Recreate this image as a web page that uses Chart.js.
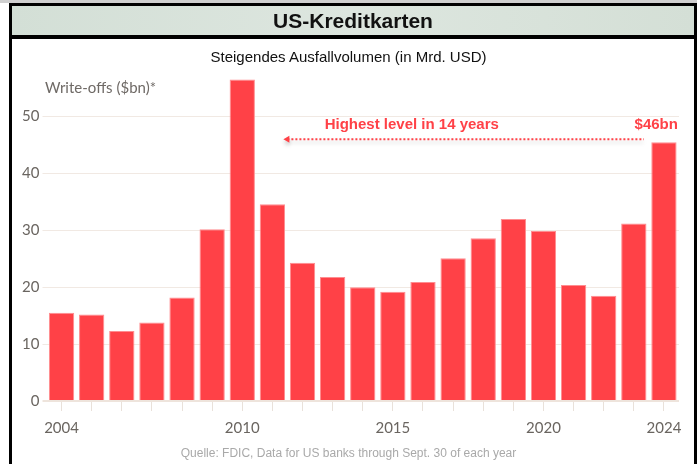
<!DOCTYPE html>
<html>
<head>
<meta charset="utf-8">
<script src="https://cdn.jsdelivr.net/npm/chart.js@4"></script>
<style>
  html, body { margin: 0; padding: 0; background: #fff; }
  #wrap { position: relative; width: 697px; height: 464px; overflow: hidden; }
  #topline { position: absolute; left: 0; top: 0; width: 697px; height: 3px; background: #cfcfcf; }
  #frame { position: absolute; left: 9px; top: 3px; width: 682px; height: 470px; border: 3px solid #000; }
  #header { position: absolute; left: 12px; top: 6px; width: 682px; height: 29px; border-bottom: 4px solid #000;
    background: linear-gradient(to right, #d3dfd6, #dde6df 50%, #d4dfd6);
    font: bold 21px "Liberation Sans", Arial, sans-serif; color: #111; text-align: center; line-height: 29px; }
  #subtitle { position: absolute; left: 0; width: 697px; top: 48px; text-align: center;
    font: 15px "Liberation Sans", Arial, sans-serif; color: #111; }
  #ytitle { position: absolute; left: 45px; top: 78px; font: 15px Lato, "Open Sans", sans-serif; color: #6f6a66; }
  #footer { position: absolute; left: 0; width: 697px; top: 446px; text-align: center;
    font: 12px "Liberation Sans Narrow", "Liberation Sans", Arial, sans-serif; color: #a9a9a9; }
  canvas { position: absolute; left: 0; top: 0; }
</style>
</head>
<body>
<div id="wrap">
  <canvas id="chart" width="697" height="464"></canvas>
  <div id="topline"></div>
  <div id="frame"></div>
  <div id="header">US-Kreditkarten</div>
  <div id="subtitle">Steigendes Ausfallvolumen (in Mrd. USD)</div>
  <div id="ytitle">Write-offs ($bn)*</div>
  <div id="footer">Quelle: FDIC, Data for US banks through Sept. 30 of each year</div>
</div>
<script>
// Card write-offs per year
const years = ["2004", "2005", "2006", "2007", "2008", "2009", "2010", "2011", "2012", "2013", "2014",
  "2015", "2016", "2017", "2018", "2019", "2020", "2021", "2022", "2023", "2024"]
const writeOffs = [15.5, 15.2, 12.3, 13.8, 18.2, 30.2, 56.5, 34.6, 24.3, 21.8, 20.0,
  19.2, 20.9, 25.1, 28.6, 32.0, 29.9, 20.4, 18.5, 31.2, 45.5]
const xTickLabels = ["2004", "2010", "2015", "2020", "2024"]
const yTicks = [0, 10, 20, 30, 40, 50]

const annoText = "Highest level in 14 years"
const annoValue = "$46bn"
const annoLevel = 46

const red = "#ff4147"
const gridColor = "#f1e9e3"
const tickColor = "#6a6560"

// Draws the dotted arrow and the two red labels
const annotationPlugin = {
  id: "annotation",
  afterDatasetsDraw(chart) {
    const { ctx, scales } = chart
    const x = scales.x
    const y = scales.y
    const yLine = y.getPixelForValue(annoLevel)
    const xStart = x.getPixelForValue(7) + 11
    const xEnd = x.getPixelForValue(20) - 20

    ctx.save()
    ctx.shadowColor = "rgba(0,0,0,0.22)"
    ctx.shadowBlur = 4
    ctx.shadowOffsetY = 3
    ctx.strokeStyle = red
    ctx.lineWidth = 2
    ctx.setLineDash([2, 2])
    ctx.beginPath()
    ctx.moveTo(xStart + 4, yLine)
    ctx.lineTo(xEnd, yLine)
    ctx.stroke()
    ctx.setLineDash([])
    ctx.fillStyle = red
    ctx.beginPath()
    ctx.moveTo(xStart, yLine)
    ctx.lineTo(xStart + 6, yLine - 3.5)
    ctx.lineTo(xStart + 6, yLine + 3.5)
    ctx.closePath()
    ctx.fill()
    ctx.restore()

    ctx.save()
    ctx.fillStyle = red
    ctx.font = "bold 15px 'Liberation Sans', Arial, sans-serif"
    ctx.textBaseline = "middle"
    ctx.textAlign = "left"
    ctx.fillText(annoText, x.getPixelForValue(9) - 8, yLine - 14)
    ctx.textAlign = "right"
    ctx.fillText(annoValue, x.getPixelForValue(20) + 14, yLine - 14)
    ctx.restore()
  },
}

new Chart(document.getElementById("chart"), {
  type: "bar",
  data: {
    labels: years,
    datasets: [
      {
        data: writeOffs,
        backgroundColor: red,
        borderColor: "#ff8d90",
        borderWidth: 1,
        borderSkipped: "bottom",
        barPercentage: 0.84,
        categoryPercentage: 1,
      },
    ],
  },
  options: {
    responsive: false,
    animation: false,
    layout: { padding: { top: 76.7, right: 18, bottom: 0, left: 12 } },
    plugins: {
      legend: { display: false },
      tooltip: { enabled: false },
    },
    scales: {
      x: {
        grid: {
          offset: false,
          drawOnChartArea: false,
          drawTicks: true,
          tickLength: 10,
          color: "#e9e1da",
        },
        border: { display: false },
        ticks: {
          autoSkip: false,
          maxRotation: 0,
          padding: 8,
          color: tickColor,
          font: { family: "Lato, 'Open Sans', sans-serif", size: 15 },
          callback: function (value) {
            const label = this.getLabelForValue(value)
            return xTickLabels.includes(label) ? label : ""
          },
        },
        afterFit(scale) {
          scale.height = 63
        },
      },
      y: {
        min: 0,
        max: 57,
        afterBuildTicks(scale) {
          scale.ticks = yTicks.map((v) => ({ value: v }))
        },
        grid: {
          color: (c) => (c.tick && c.tick.value === 0 ? "#eee4dc" : gridColor),
          lineWidth: (c) => (c.tick && c.tick.value === 0 ? 2 : 1),
          tickLength: 4,
        },
        border: { display: false },
        ticks: {
          padding: 3,
          color: tickColor,
          font: { family: "Lato, 'Open Sans', sans-serif", size: 15 },
        },
        afterFit(scale) {
          scale.width = 34.5
        },
      },
    },
  },
  plugins: [annotationPlugin],
})
</script>
</body>
</html>
